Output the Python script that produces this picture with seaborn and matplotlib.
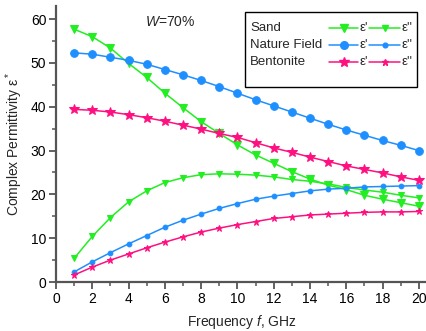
import numpy as np
import pandas as pd
import matplotlib
matplotlib.use("Agg")
import matplotlib.pyplot as plt
from matplotlib.lines import Line2D
from matplotlib.patches import Rectangle
import seaborn as sns

# data
freq = list(range(1, 21))
sand_re = [57.7, 56.0, 53.4, 49.9, 46.7, 43.1, 39.8, 36.6, 33.9, 31.3,
           29.0, 27.1, 25.2, 23.5, 22.1, 21.1, 19.8, 18.9, 18.1, 17.3]
sand_im = [5.4, 10.4, 14.7, 18.3, 20.8, 22.7, 23.8, 24.5, 24.7, 24.6,
           24.4, 24.0, 23.4, 23.0, 22.4, 21.6, 21.0, 20.5, 19.8, 19.2]
field_re = [52.3, 52.0, 51.3, 50.6, 49.7, 48.5, 47.3, 46.0, 44.6, 43.1,
            41.6, 40.2, 38.8, 37.4, 36.0, 34.7, 33.5, 32.3, 31.2, 30.0]
field_im = [2.3, 4.6, 6.7, 8.7, 10.6, 12.5, 14.1, 15.5, 16.8, 17.9,
            18.9, 19.6, 20.2, 20.8, 21.2, 21.4, 21.7, 21.8, 21.9, 22.0]
bent_re = [39.4, 39.2, 38.8, 38.2, 37.5, 36.7, 35.8, 34.9, 33.9, 33.0,
           31.8, 30.6, 29.6, 28.5, 27.5, 26.5, 25.7, 24.9, 24.0, 23.2]
bent_im = [1.6, 3.4, 5.0, 6.4, 7.8, 9.1, 10.3, 11.4, 12.3, 13.1,
           13.8, 14.5, 14.9, 15.3, 15.5, 15.7, 15.9, 16.0, 16.0, 16.1]

materials = ["Sand", "Nature Field", "Bentonite"]
colors = ["#22ee22", "#1e8fff", "#ff1080"]
markers = ["v", "o", "*"]
big_size = [6, 5.5, 7]
small_size = [4, 3.4, 4.8]
series = [(sand_re, sand_im), (field_re, field_im), (bent_re, bent_im)]

sns.set_style("ticks")
plt.rcParams["font.family"] = ["Liberation Sans", "DejaVu Sans"]
plt.rcParams["mathtext.fontset"] = "custom"
plt.rcParams["mathtext.it"] = "Liberation Sans:italic"
plt.rcParams["mathtext.rm"] = "Liberation Sans"

W, H = 427, 331
fig = plt.figure(figsize=(W / 100, H / 100), dpi=100)
ax = fig.add_axes([56 / W, 1 - 282 / H, (W - 56) / W, (282 - 6) / H])

for (re, im), c, m, bs, ss in zip(series, colors, markers, big_size, small_size):
    sns.lineplot(x=freq, y=re, ax=ax, color=c, marker=m, markersize=bs,
                 markeredgecolor=c, linewidth=1.1, clip_on=False)
    sns.lineplot(x=freq, y=im, ax=ax, color=c, marker=m, markersize=ss,
                 markeredgecolor=c, linewidth=1.1, clip_on=False)

ax.set_xlim(0, 20.45)
ax.set_ylim(0, 63)
ax.set_xticks(range(0, 21, 2))
ax.set_xticks(range(0, 21, 1), minor=True)
ax.set_yticks(range(0, 61, 10))
ax.set_yticks(range(0, 61, 5), minor=True)
sns.despine(ax=ax)
for s in ["left", "bottom"]:
    ax.spines[s].set_linewidth(1.6)
    ax.spines[s].set_color("#555555")
ax.tick_params(which="major", length=5, width=1.3, color="#555555",
               labelsize=10, labelcolor="black", pad=2)
ax.tick_params(which="minor", length=3, width=1.1, color="#555555")
ax.set_xlabel("Frequency $f$, GHz", fontsize=10, labelpad=5)
ax.set_ylabel("Complex Permittivity ε$^*$", fontsize=10, labelpad=4)

fig.text(145 / W, 1 - 22 / H, "$W$=70%", fontsize=10, va="center", ha="left")


# hand-made legend box
def fx(px):
    return px / W


def fy(py):
    return 1 - py / H


fig.add_artist(Rectangle((fx(245), fy(87)), fx(417) - fx(245), fy(12) - fy(87),
                         transform=fig.transFigure, fill=False,
                         edgecolor="black", linewidth=1.0))
rows = [28, 45, 62]
for name, c, m, bs, ss, ry in zip(materials, colors, markers, big_size,
                                  small_size, rows):
    fig.text(fx(250), fy(ry), name, fontsize=9.5, va="center", ha="left")
    fig.add_artist(Line2D([fx(329), fx(358)], [fy(ry), fy(ry)],
                          transform=fig.transFigure, color=c, linewidth=1.1))
    fig.add_artist(Line2D([fx(344)], [fy(ry)], transform=fig.transFigure,
                          color=c, marker=m, markersize=bs, markeredgecolor=c))
    fig.text(fx(360), fy(ry), "ε'", fontsize=9.5, va="center", ha="left")
    fig.add_artist(Line2D([fx(369), fx(400)], [fy(ry), fy(ry)],
                          transform=fig.transFigure, color=c, linewidth=1.1))
    fig.add_artist(Line2D([fx(385)], [fy(ry)], transform=fig.transFigure,
                          color=c, marker=m, markersize=ss, markeredgecolor=c))
    fig.text(fx(402), fy(ry), "ε''", fontsize=9.5, va="center", ha="left")

fig.savefig("out.png", dpi=100)
